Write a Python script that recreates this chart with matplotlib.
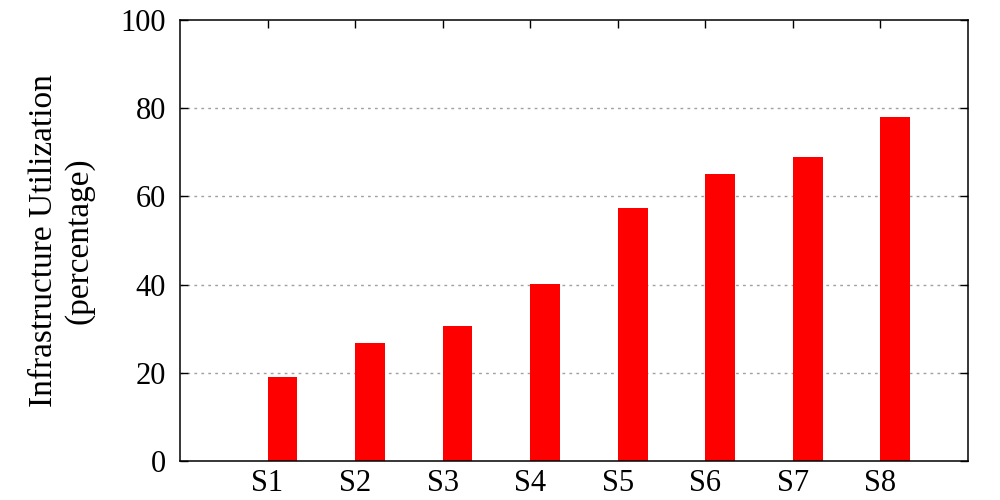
import matplotlib
matplotlib.use('Agg')
import matplotlib.pyplot as plt

labels = ['S1', 'S2', 'S3', 'S4', 'S5', 'S6', 'S7', 'S8']
utilization = [19.0, 26.8, 30.6, 40.1, 57.4, 65.1, 68.9, 78.0]

plt.rcParams['font.family'] = ['Liberation Serif', 'DejaVu Serif']
plt.rcParams['font.size'] = 22

fig = plt.figure(figsize=[10, 5], dpi=100)
ax = fig.add_axes([0.18, 0.078, 0.788, 0.882])

pos = list(range(1, len(labels) + 1))
ax.bar(pos, utilization, width=0.34, align='edge', color='#ff0000', zorder=2)

ax.set_xlim(0, 9)
ax.set_ylim(0, 100)
ax.set_xticks(pos)
ax.set_xticklabels(labels)
ax.set_yticks([0, 20, 40, 60, 80, 100])
ax.tick_params(direction='in', top=True, right=True, length=6, width=1.0)
ax.tick_params(axis='y', pad=10)
ax.tick_params(axis='x', bottom=False, pad=6)
for y in [20, 40, 60, 80]:
    ax.axhline(y, color='#a0a0a0', linestyle=(0, (2, 3)), linewidth=1, zorder=1)
for sp in ax.spines.values():
    sp.set_linewidth(1.1)

ax.set_ylabel('Infrastructure Utilization\n(percentage)', fontsize=24,
              labelpad=19, linespacing=1.2)

fig.savefig('out.png')
